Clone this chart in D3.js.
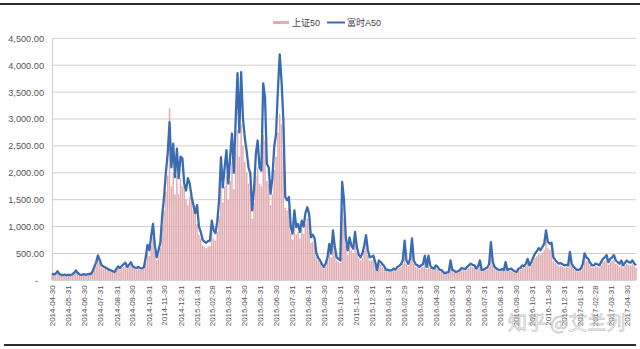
<!DOCTYPE html>
<html>
<head>
<meta charset="utf-8">
<script src="https://cdn.jsdelivr.net/npm/d3@7"></script>
<style>
  html, body { margin: 0; padding: 0; background: #fff; }
  svg { display: block; font-family: "Liberation Sans", Arial, "Noto Sans CJK SC", sans-serif; }
</style>
</head>
<body>
<svg id="chart" width="640" height="349"></svg>
<script>
// Series sampled every half week (3.5 days) starting 2014-04-30
const startDate = new Date(2014, 3, 30);
const stepHours = 84;

// 上证50 (bars)
const sz50 = [
  110,100,110,130,110,95,90,95,90,95,
  90,95,120,150,120,100,90,100,95,100,
  105,100,140,210,280,380,320,240,220,210,
  190,175,165,150,140,180,220,200,230,250,
  280,220,250,280,230,210,200,215,200,200,
  210,350,520,460,650,800,540,380,470,600,
  1000,1300,1650,1950,3200,1750,2000,1600,1950,1600,
  1900,1750,1850,1500,1400,1550,1650,1300,1350,1050,
  850,780,650,620,600,630,640,900,780,740,
  900,1200,1800,1450,1750,1950,1500,1850,2200,1700,
  2400,2800,2300,2900,2500,2200,2000,1800,1700,1150,
  1450,1950,2100,1800,1750,2700,2600,1850,1800,1400,
  1600,2050,2300,2750,3100,2900,2400,1350,1300,1350,
  880,760,1050,850,900,780,950,870,1050,1150,
  1050,700,720,660,440,370,320,260,220,260,
  360,560,430,760,530,370,340,320,1350,1150,
  650,470,650,560,500,720,520,410,370,420,
  550,680,470,370,370,390,290,170,310,290,
  250,220,165,170,155,165,185,170,210,230,
  250,310,580,310,260,340,600,310,250,240,
  210,240,250,380,210,380,240,195,190,240,
  210,170,160,135,110,130,135,300,160,150,
  135,145,160,195,185,180,210,235,260,245,
  235,190,220,300,160,170,185,200,250,550,
  290,210,185,170,160,175,160,280,160,175,
  185,160,145,130,185,195,235,220,260,330,
  240,290,350,420,450,500,470,520,570,760,
  600,570,590,360,320,290,260,270,250,235,
  245,235,440,260,210,185,160,170,185,250,
  420,360,340,280,235,235,260,250,235,285,
  340,360,400,290,340,360,390,310,290,260,
  310,235,280,310,290,280,310,270,235
];

// 富时A50 (line)
const a50 = [
  125,110,130,170,120,105,100,110,95,105,
  100,110,140,185,140,110,100,115,105,110,
  120,115,160,250,330,465,380,280,260,240,
  220,200,190,170,155,210,260,230,270,300,
  330,250,290,340,260,240,230,250,230,225,
  240,420,660,560,820,1050,650,430,560,700,
  1200,1550,2000,2360,2940,2100,2540,1920,2450,1900,
  2300,2270,1800,1670,1900,1800,1550,1400,1250,1400,
  1000,900,760,720,700,730,740,1110,930,880,
  1100,1490,2290,1730,2100,2420,1800,2300,2730,2000,
  2970,3850,2750,3870,3000,2650,2400,2100,1990,1300,
  1700,2350,2600,2100,2040,3660,3400,2170,2100,1610,
  1900,2480,2730,3530,4200,3700,2970,1550,1490,1550,
  1000,870,1300,990,1050,900,1110,1000,1250,1360,
  1240,800,850,780,500,420,370,300,250,310,
  430,680,500,930,620,430,400,370,1830,1490,
  800,560,800,650,590,900,620,480,430,500,
  650,840,560,430,440,460,340,190,370,340,
  300,260,190,200,180,190,220,200,250,270,
  300,370,740,370,310,400,780,370,300,280,
  250,280,300,460,250,460,280,230,220,280,
  250,200,190,160,130,150,155,370,190,180,
  155,170,190,230,220,210,250,280,310,290,
  280,220,260,370,190,200,220,240,300,710,
  350,250,220,200,190,210,190,340,190,210,
  220,190,170,155,220,230,280,260,310,400,
  280,340,420,500,540,600,560,620,680,930,
  720,680,700,430,380,340,310,320,300,280,
  290,280,530,310,250,220,190,200,220,300,
  500,430,400,330,280,280,310,300,280,340,
  400,430,470,340,400,430,470,370,340,310,
  370,280,330,370,340,330,370,320,280
];

const yTicks = [0, 500, 1000, 1500, 2000, 2500, 3000, 3500, 4000, 4500];
const seriesNames = ["上证50", "富时A50"];
const seriesColors = ["#e2adb1", "#3a6cb4"];

const svg = d3.select("#chart");
const plot = { left: 52, right: 636, top: 38.3, bottom: 280.4 };

const dates = a50.map((_, i) => d3.timeHour.offset(startDate, stepHours * i));
const endDate = dates[dates.length - 1];

const x = d3.scaleTime().domain([startDate, endDate]).range([plot.left, plot.right]);
const y = d3.scaleLinear().domain([0, 4500]).range([plot.bottom, plot.top]);

// frame lines of the figure
svg.append("line").attr("x1", 0).attr("x2", 640).attr("y1", 4).attr("y2", 4)
  .attr("stroke", "#2b2b2b").attr("stroke-width", 2);
svg.append("line").attr("x1", 4).attr("x2", 636).attr("y1", 345).attr("y2", 345)
  .attr("stroke", "#2b2b2b").attr("stroke-width", 2);

// horizontal gridlines
svg.append("g").selectAll("line").data(yTicks.slice(1)).join("line")
  .attr("x1", plot.left).attr("x2", plot.right)
  .attr("y1", d => y(d)).attr("y2", d => y(d))
  .attr("stroke", "#cfcfcf").attr("stroke-width", 1);

// y axis
const yAxis = svg.append("g")
  .attr("transform", `translate(${plot.left},0)`)
  .call(d3.axisLeft(y).tickValues(yTicks).tickSize(0).tickPadding(8)
    .tickFormat(d => d === 0 ? "-" : d3.format(",.2f")(d)));
yAxis.select(".domain").attr("stroke", "#cfcfcf");
yAxis.selectAll("text").attr("fill", "#555").attr("font-size", 9.2);
yAxis.selectAll(".tick").filter(d => d === 0).select("text").attr("x", -14);

// bars
const bw = 1.5;
svg.append("g").selectAll("rect").data(sz50).join("rect")
  .attr("x", (d, i) => x(dates[i]) - bw / 2)
  .attr("width", bw)
  .attr("y", d => y(d))
  .attr("height", d => y(0) - y(d))
  .attr("fill", seriesColors[0]);

// baseline
svg.append("line").attr("x1", plot.left).attr("x2", plot.right)
  .attr("y1", y(0)).attr("y2", y(0)).attr("stroke", "#cfcfcf");

// line
svg.append("path").datum(a50)
  .attr("fill", "none")
  .attr("stroke", seriesColors[1])
  .attr("stroke-width", 2.3)
  .attr("stroke-linejoin", "round")
  .attr("d", d3.line().x((d, i) => x(dates[i])).y(d => y(d)));

// x axis: month-end labels
const monthEnds = d3.timeMonth.range(new Date(2014, 4, 1), new Date(2017, 4, 2))
  .map(d => d3.timeDay.offset(d, -1));
const xAxis = svg.append("g")
  .attr("transform", `translate(0,${plot.bottom})`)
  .call(d3.axisBottom(x).tickValues(monthEnds).tickSize(0).tickPadding(0)
    .tickFormat(d3.timeFormat("%Y-%m-%d")));
xAxis.select(".domain").remove();
xAxis.selectAll("text")
  .attr("fill", "#555").attr("font-size", 8)
  .attr("text-anchor", "end")
  .attr("dy", "0.32em")
  .attr("transform", "translate(0,5) rotate(-90)")
  .attr("y", 0).attr("x", 0);

// legend
const lg = svg.append("g");
lg.append("line").attr("x1", 273).attr("x2", 289).attr("y1", 22.5).attr("y2", 22.5)
  .attr("stroke", seriesColors[0]).attr("stroke-width", 3);
lg.append("text").attr("x", 292).attr("y", 25.5).attr("font-size", 9).attr("fill", "#444")
  .text(seriesNames[0]);
lg.append("line").attr("x1", 327).attr("x2", 345).attr("y1", 22.5).attr("y2", 22.5)
  .attr("stroke", seriesColors[1]).attr("stroke-width", 2);
lg.append("text").attr("x", 347).attr("y", 25.5).attr("font-size", 9).attr("fill", "#444")
  .text(seriesNames[1]);

// watermark
svg.append("text").attr("x", 508).attr("y", 330)
  .attr("font-size", 19)
  .attr("font-family", "Noto Sans CJK SC, sans-serif")
  .attr("fill", "rgba(255,255,255,0.5)")
  .attr("stroke", "rgba(150,150,150,0.55)").attr("stroke-width", 0.8)
  .text("知乎 @艾兰列");
</script>
</body>
</html>
